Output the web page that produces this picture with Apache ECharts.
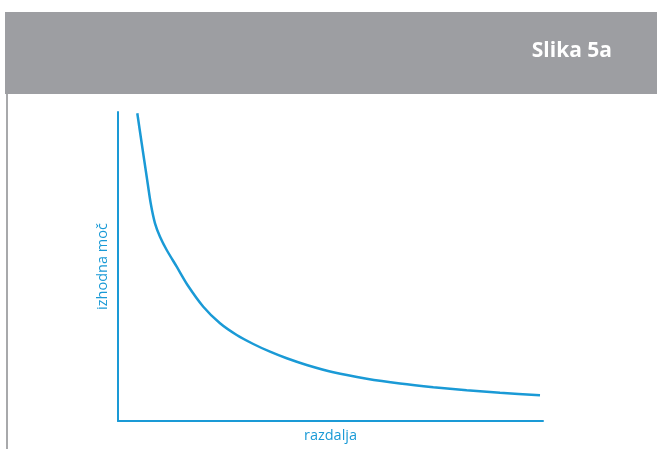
<!DOCTYPE html>
<html>
<head>
<meta charset="utf-8">
<script src="https://cdn.jsdelivr.net/npm/echarts@6/dist/echarts.min.js"></script>
<style>html,body{margin:0;padding:0;background:#fff}#c{width:657px;height:449px}</style>
</head>
<body>
<div id="c"></div>
<script>
var titleText = 'Slika 5a';
var xName = 'razdalja';
var yName = 'izhodna moč';
// distance (x) and output power (y), in arbitrary units
var distance = [19.3, 23.7, 28.7, 32.7, 37, 42, 48.7, 58.7, 69.5, 85.3, 102, 118.7, 135.3, 152, 168.7, 188.7, 215.3, 248.7, 282, 315.3, 348.7, 382, 422];
var power    = [307.7, 277.7, 244.3, 217.7, 197.7, 184.3, 171, 154.3, 136, 114.3, 97.7, 86, 77, 69.3, 62.7, 56, 48.7, 42.3, 37.5, 33.8, 30.8, 28.2, 25.7];

var chart = echarts.init(document.getElementById('c'));
var blue = '#1a9ad6';
var pts = distance.map(function (d, i) { return [d, power[i]]; });
chart.setOption({
  animation: false,
  grid: { left: 118, top: 112, width: 425, height: 309, outerBoundsMode: 'none', containLabel: false },
  graphic: [
    { type: 'rect', shape: { x: 5, y: 12, width: 652, height: 82 }, style: { fill: '#9d9ea2' }, z: -1 },
    { type: 'rect', shape: { x: 6, y: 94, width: 2, height: 355 }, style: { fill: '#a8a9ab' }, z: -1 },
    { type: 'text', right: 45, top: 41, style: { text: titleText, fill: '#ffffff', font: 'bold 21px "Open Sans", sans-serif' } }
  ],
  xAxis: {
    type: 'value', min: 0, max: 425,
    name: xName, nameLocation: 'middle', nameGap: 7,
    nameTextStyle: { color: blue, fontSize: 14.5, fontFamily: 'Open Sans', verticalAlign: 'top' },
    axisLine: { show: true, lineStyle: { color: blue, width: 2 } },
    axisTick: { show: false }, axisLabel: { show: false }, splitLine: { show: false }
  },
  yAxis: {
    type: 'value', min: 0, max: 309,
    name: yName, nameLocation: 'middle', nameGap: 8, nameRotate: 90,
    nameTextStyle: { color: blue, fontSize: 14.5, fontFamily: 'Open Sans' },
    axisLine: { show: true, lineStyle: { color: blue, width: 2 } },
    axisTick: { show: false }, axisLabel: { show: false }, splitLine: { show: false }
  },
  series: [{
    type: 'line', data: pts, smooth: 0.25, showSymbol: false,
    lineStyle: { color: blue, width: 2.5 }
  }]
});
</script>
</body>
</html>
